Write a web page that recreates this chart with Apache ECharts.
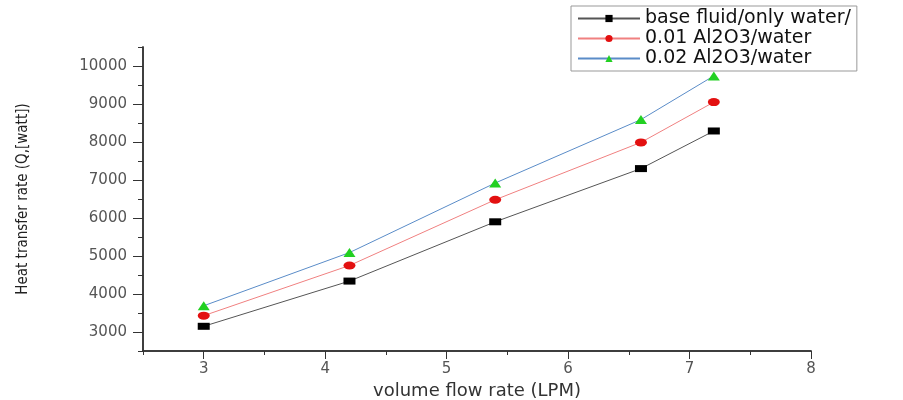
<!DOCTYPE html>
<html lang="en">
<head>
    <meta charset="UTF-8">
    <title>Heat transfer rate</title>
    <style>
        html, body { margin: 0; padding: 0; background: #fff; }
    </style>
</head>
<body>
    <div id="main" style="width:903px; height:400px;"></div>
    <script src="https://cdn.jsdelivr.net/npm/echarts@6/dist/echarts.min.js"></script>
    <script>
        // volume flow rate (LPM)
        var flowRate = [3, 4.2, 5.4, 6.6, 7.2];
        // heat transfer rate (watt)
        var baseFluid = [3150, 4340, 5900, 7300, 8290];
        var al2o3_001 = [3430, 4750, 6480, 7990, 9050];
        var al2o3_002 = [3690, 5090, 6920, 8590, 9740];
        var seriesNames = ['base fluid/only water/', '0.01 Al2O3/water', '0.02 Al2O3/water'];
        var xTicks = [3, 4, 5, 6, 7, 8];
        var yTicks = [3000, 4000, 5000, 6000, 7000, 8000, 9000, 10000];

        function pairs(ys) {
            var res = [];
            for (var i = 0; i < flowRate.length; i++) {
                res.push([flowRate[i], ys[i]]);
            }
            return res;
        }

        var myChart = echarts.init(document.getElementById('main'));
        var axisColor = '#333';
        var labelColor = '#555';
        var font = 'DejaVu Sans';

        myChart.setOption({
            animation: false,
            grid: { left: 143, right: 92, top: 47, bottom: 49, outerBoundsMode: 'none' },
            legend: {
                orient: 'vertical',
                left: 571,
                top: 6,
                itemWidth: 62,
                itemHeight: 9,
                itemGap: 1,
                padding: [3, 6, 3, 6],
                borderColor: '#999',
                borderWidth: 1,
                textStyle: { fontFamily: font, fontSize: 19, color: '#111' },
                data: seriesNames
            },
            xAxis: [{
                type: 'value',
                min: 2.5,
                max: 8,
                interval: 0.5,
                name: 'volume flow rate (LPM)',
                nameLocation: 'middle',
                nameGap: 27,
                nameTextStyle: { fontFamily: font, fontSize: 18, color: '#333' },
                axisLine: { lineStyle: { color: axisColor, width: 1.5 } },
                axisTick: { show: true, length: 4, lineStyle: { color: axisColor } },
                axisLabel: {
                    customValues: xTicks,
                    margin: 11,
                    fontFamily: font, fontSize: 15, color: labelColor
                },
                splitLine: { show: false }
            }, {
                type: 'value',
                min: 2.5,
                max: 8,
                position: 'bottom',
                axisLine: { show: true, lineStyle: { color: axisColor, width: 1.5 } },
                axisTick: { show: true, length: 8, customValues: xTicks, lineStyle: { color: axisColor } },
                axisLabel: { show: false },
                splitLine: { show: false }
            }],
            yAxis: [{
                type: 'value',
                min: 2500,
                max: 10500,
                interval: 500,
                name: 'Heat transfer rate (Q,[watt])',
                nameLocation: 'middle',
                nameGap: 112,
                nameTextStyle: { fontFamily: "'DejaVu Sans Condensed', 'Liberation Sans'", fontSize: 15, color: '#222' },
                axisLine: { show: true, lineStyle: { color: axisColor, width: 1.5 } },
                axisTick: { show: true, length: 5, lineStyle: { color: axisColor } },
                axisLabel: {
                    customValues: yTicks,
                    margin: 16,
                    formatter: function (v) { return String(v); },
                    fontFamily: font, fontSize: 15, color: labelColor
                },
                splitLine: { show: false }
            }, {
                type: 'value',
                min: 2500,
                max: 10500,
                position: 'left',
                axisLine: { show: true, lineStyle: { color: axisColor, width: 1.5 } },
                axisTick: { show: true, length: 10, customValues: yTicks, lineStyle: { color: axisColor } },
                axisLabel: { show: false },
                splitLine: { show: false }
            }],
            series: [
                {
                    name: seriesNames[0],
                    type: 'line',
                    symbol: 'rect',
                    symbolSize: [12, 7],
                    itemStyle: { color: '#000' },
                    lineStyle: { color: '#555', width: 1 },
                    data: pairs(baseFluid)
                },
                {
                    name: seriesNames[1],
                    type: 'line',
                    symbol: 'circle',
                    symbolSize: [12, 8],
                    itemStyle: { color: '#e31010' },
                    lineStyle: { color: '#f08080', width: 1 },
                    data: pairs(al2o3_001)
                },
                {
                    name: seriesNames[2],
                    type: 'line',
                    symbol: 'triangle',
                    symbolSize: [12, 9],
                    itemStyle: { color: '#22d022' },
                    lineStyle: { color: '#5a8cc8', width: 1 },
                    data: pairs(al2o3_002)
                }
            ]
        });
        window.onresize = myChart.resize;
    </script>
</body>
</html>
